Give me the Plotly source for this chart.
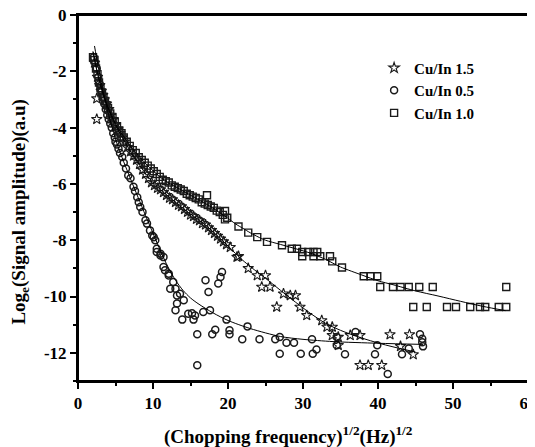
import plotly.graph_objects as go

# ---------------- data ----------------
sq_x = [2.0, 2.2, 2.4, 2.6, 2.8, 3.0, 3.2, 3.4, 3.6, 3.8, 4.0, 4.3, 4.6, 4.9, 5.2, 5.5, 5.8, 6.1,
        6.5, 6.9, 7.3, 7.7, 8.1, 8.5, 8.9, 9.3, 9.7, 10.1, 10.5, 10.9, 11.3, 11.7, 12.1, 12.5,
        12.9, 13.3, 13.7, 14.1, 14.5, 14.9, 15.3, 15.7, 16.1, 16.5, 16.9, 17.2, 17.3, 17.7, 18.1,
        18.5, 18.9, 19.3, 19.6, 19.6, 19.9, 21.4, 22.7, 23.9, 25.2, 27.2, 28.5, 29.2, 29.9, 29.9,
        30.7, 31.4, 31.9, 31.4, 32.3, 33.6, 33.9, 35.2, 38.1, 39.0, 39.9, 40.3, 42.0, 43.0, 44.1,
        45.5, 47.3, 57.1, 44.7, 46.5, 49.2, 50.4, 52.3, 53.6, 54.3, 56.1, 57.1]
sq_y = [-1.5, -1.6, -1.9, -2.1, -2.4, -2.6, -2.75, -2.9, -3.05, -3.2, -3.3, -3.5, -3.65, -3.8,
        -3.95, -4.1, -4.2, -4.35, -4.5, -4.65, -4.8, -4.9, -5.05, -5.15, -5.25, -5.35, -5.45,
        -5.55, -5.65, -5.75, -5.85, -5.9, -5.95, -6.05, -6.1, -6.15, -6.2, -6.25, -6.35, -6.4,
        -6.45, -6.5, -6.55, -6.65, -6.7, -6.4, -6.75, -6.8, -6.85, -6.95, -7.0, -7.1, -6.96,
        -7.26, -7.2, -7.51, -7.73, -7.89, -8.06, -8.18, -8.3, -8.3, -8.42, -8.57, -8.42, -8.42,
        -8.42, -8.57, -8.57, -8.57, -8.75, -8.97, -9.28, -9.28, -9.28, -9.66, -9.66, -9.66,
        -9.66, -9.66, -9.66, -9.66, -10.37, -10.37, -10.37, -10.37, -10.37, -10.37, -10.37,
        -10.37, -10.37]

st_x = [2.2, 2.5, 2.5, 2.6, 2.9, 3.1, 3.3, 3.5, 3.8, 4.1, 4.4, 4.7, 5.0, 5.3, 5.6, 5.9, 6.2, 6.6,
        7.0, 7.4, 7.8, 8.2, 8.6, 9.0, 9.4, 9.8, 10.2, 10.6, 11.0, 11.4, 11.8, 12.2, 12.6, 13.0,
        13.4, 13.8, 14.2, 14.6, 15.0, 15.4, 15.8, 16.2, 16.6, 17.0, 17.4, 17.8, 18.2, 18.6, 19.0,
        19.4, 19.8, 20.3, 21.2, 21.4, 22.7, 23.9, 25.0, 24.5, 25.6, 27.4, 28.3, 29.0, 26.5, 29.6,
        30.5, 32.5, 33.2, 33.9, 33.9, 34.7, 34.7, 36.3, 37.6, 41.6, 44.2, 43.0, 44.7, 37.6, 38.7,
        40.5]
st_y = [-1.7, -2.97, -3.7, -2.2, -2.5, -2.7, -2.85, -3.0, -3.15, -3.35, -3.55, -3.7, -3.9, -4.05,
        -4.2, -4.35, -4.5, -4.7, -4.85, -5.0, -5.15, -5.3, -5.5, -5.65, -5.8, -5.95, -6.05, -6.15,
        -6.2, -6.3, -6.4, -6.5, -6.55, -6.65, -6.75, -6.8, -6.9, -7.0, -7.1, -7.15, -7.25, -7.3,
        -7.4, -7.45, -7.55, -7.65, -7.75, -7.85, -7.95, -8.05, -8.15, -8.25, -8.6, -8.57, -9.0,
        -9.25, -9.25, -9.66, -9.66, -9.9, -9.96, -9.96, -10.37, -10.37, -10.67, -10.85, -11.08,
        -11.08, -11.38, -11.44, -11.73, -11.38, -11.38, -11.35, -11.35, -11.77, -12.06, -12.44,
        -12.44, -12.44]

ci_x = [2.1, 2.3, 2.5, 2.7, 2.9, 3.1, 3.3, 3.5, 3.7, 3.9, 4.1, 4.3, 4.5, 4.7, 4.9, 5.0, 5.2, 5.4,
        5.6, 5.9, 6.1, 6.4, 6.7, 7.0, 7.4, 7.6, 7.9, 8.1, 8.3, 8.6, 9.0, 9.2, 9.6, 9.9, 10.1, 10.3,
        10.5, 10.5, 11.0, 11.0, 11.4, 11.4, 11.6, 12.1, 12.1, 12.7, 12.3, 13.0, 13.6, 13.2, 14.1,
        13.2, 13.0, 13.9, 14.7, 15.2, 15.6, 15.4, 16.7, 17.6, 17.0, 17.4, 18.7, 19.0, 19.2, 19.8,
        15.9, 17.9, 18.3, 20.2, 20.2, 22.6, 21.9, 24.2, 26.3, 26.9, 27.8, 28.8, 31.2, 26.9, 29.7,
        31.3, 31.8, 15.9, 34.5, 34.5, 35.6, 37.0, 39.6, 39.9, 43.2, 44.1, 45.6, 45.9, 45.9, 46.0,
        41.3]
ci_y = [-1.5, -1.7, -1.9, -2.2, -2.45, -2.7, -2.95, -3.15, -3.35, -3.55, -3.7, -3.85, -4.0, -4.2,
        -4.35, -4.5, -4.6, -4.75, -4.9, -5.04, -5.25, -5.45, -5.7, -5.8, -6.1, -6.25, -6.47,
        -6.65, -6.82, -7.0, -7.29, -7.41, -7.65, -7.83, -7.89, -8.0, -8.3, -8.42, -8.48, -8.54,
        -8.6, -8.95, -9.07, -9.19, -9.25, -9.48, -9.72, -9.72, -9.9, -9.96, -10.13, -10.25,
        -10.49, -10.82, -10.61, -10.59, -10.67, -10.82, -10.55, -10.49, -9.42, -9.84, -9.54,
        -9.31, -9.13, -10.82, -11.34, -11.34, -11.18, -11.2, -11.34, -11.06, -11.52, -11.52,
        -11.52, -11.44, -11.64, -11.64, -11.52, -12.03, -12.03, -12.03, -11.88, -12.44, -11.44,
        -11.73, -12.05, -11.26, -12.05, -11.73, -12.05, -11.85, -11.34, -11.5, -11.62, -11.77,
        -12.75]

# fitted curves
fit_sq_x = [2.0, 2.5, 3, 3.5, 4, 4.5, 5, 5.5, 6, 7, 8, 9, 10, 11, 12, 13, 14, 15, 16, 17, 18, 19,
            20, 21, 22, 23, 24, 25, 27, 29, 31, 33, 35, 38, 40, 42, 45, 48, 51, 54, 57]
fit_sq_y = [-1.3, -1.95, -2.5, -2.92, -3.28, -3.58, -3.85, -4.08, -4.28, -4.66, -4.98, -5.27,
            -5.53, -5.76, -5.95, -6.1, -6.25, -6.4, -6.55, -6.7, -6.86, -7.04, -7.22, -7.42,
            -7.58, -7.74, -7.88, -8.0, -8.15, -8.3, -8.46, -8.68, -8.95, -9.25, -9.44, -9.58,
            -9.8, -9.98, -10.17, -10.35, -10.5]

fit_st_x = [2.0, 2.5, 3, 3.5, 4, 5, 6, 7, 8, 9, 10, 11, 12, 13, 14, 15, 16, 17, 18, 19, 20, 21,
            22, 23, 24, 25, 27, 29, 31, 33, 35, 37, 39, 41, 43, 45]
fit_st_y = [-1.3, -1.95, -2.48, -2.92, -3.3, -3.9, -4.4, -4.85, -5.25, -5.63, -5.95, -6.2,
            -6.43, -6.65, -6.87, -7.07, -7.26, -7.46, -7.7, -7.95, -8.2, -8.47, -8.72, -8.94,
            -9.15, -9.35, -9.78, -10.2, -10.6, -10.95, -11.2, -11.4, -11.57, -11.72, -11.85,
            -11.97]

fit_ci_x = [2.2, 2.6, 3, 3.5, 4, 4.5, 5, 5.5, 6, 7, 8, 9, 10, 11, 12, 13, 14, 15, 16, 18, 20, 23,
            27, 30, 34, 40, 46]
fit_ci_y = [-1.1, -1.7, -2.25, -2.9, -3.45, -3.95, -4.4, -4.8, -5.15, -5.82, -6.47, -7.12,
            -7.75, -8.38, -8.95, -9.42, -9.78, -10.05, -10.25, -10.58, -10.85, -11.14, -11.42,
            -11.52, -11.6, -11.66, -11.7]

x_ticks = [0, 10, 20, 30, 40, 50, 60]
x_ticktext = ["0", "10", "20", "30", "40", "50", "60"]
y_ticks = [0, -2, -4, -6, -8, -10, -12]
y_ticktext = ["0", "-2", "-4", "-6", "-8", "-10", "-12"]

# ---------------- figure ----------------
SERIF = "Liberation Serif, Times New Roman, serif"
MC = "#1a1a1a"

fig = go.Figure()
fig.add_trace(go.Scatter(x=st_x, y=st_y, mode="markers", name="Cu/In 1.5", cliponaxis=False,
                         marker=dict(symbol="star-open", size=8, color=MC, line=dict(width=1.1, color=MC))))
fig.add_trace(go.Scatter(x=ci_x, y=ci_y, mode="markers", name="Cu/In 0.5", cliponaxis=False,
                         marker=dict(symbol="circle-open", size=7, color=MC, line=dict(width=1.5, color=MC))))
fig.add_trace(go.Scatter(x=sq_x, y=sq_y, mode="markers", name="Cu/In 1.0", cliponaxis=False,
                         marker=dict(symbol="square-open", size=7, color=MC, line=dict(width=1.4, color=MC))))
for fx, fy in [(fit_sq_x, fit_sq_y), (fit_st_x, fit_st_y), (fit_ci_x, fit_ci_y)]:
    fig.add_trace(go.Scatter(x=fx, y=fy, mode="lines", showlegend=False, hoverinfo="skip",
                             line=dict(color="black", width=1, shape="spline", smoothing=0.8)))

axis_common = dict(
    showline=True, linecolor="black", linewidth=2, mirror=True, automargin=False,
    ticks="outside", ticklen=6, tickwidth=2, tickcolor="black",
    showgrid=False, zeroline=False, ticklabeloverflow="allow",
    tickfont=dict(family=SERIF, size=17, color="black", weight="bold"),
)
fig.update_xaxes(range=[0, 60], tickvals=x_ticks, ticktext=x_ticktext,
                 minor=dict(ticks="outside", ticklen=3, tickwidth=2, tickcolor="black", dtick=5, showgrid=False),
                 **axis_common)
fig.update_yaxes(range=[-13, 0], tickvals=y_ticks, ticktext=y_ticktext,
                 minor=dict(ticks="outside", ticklen=3, tickwidth=2, tickcolor="black", dtick=1, showgrid=False),
                 **axis_common)

# full frame around the plotting area
fig.add_shape(type="rect", xref="paper", yref="paper", x0=0, y0=0, x1=1, y1=1,
              line=dict(color="black", width=2), layer="above")

fig.add_annotation(xref="paper", yref="paper", x=0.467, y=-0.148, xanchor="center", yanchor="middle",
                   showarrow=False,
                   text="(Chopping frequency)<sup>1/2</sup>(Hz)<sup>1/2</sup>",
                   font=dict(family=SERIF, size=19, color="black", weight="bold"))
fig.add_annotation(xref="paper", yref="paper", x=-0.128, y=0.464, xanchor="center", yanchor="middle",
                   showarrow=False, textangle=-90,
                   text="Log<sub>e</sub>(Signal amplitude)(a.u)",
                   font=dict(family=SERIF, size=19, color="black", weight="bold"))

# page body has an 8px default margin: shrink the figure so the plot lands where the reference has it
fig.update_layout(
    width=527, height=439,
    margin=dict(l=70, r=7, t=7, b=66, autoexpand=False),
    paper_bgcolor="white", plot_bgcolor="white",
    showlegend=True,
    legend=dict(x=0.658, y=0.9, xanchor="left", yanchor="top", bgcolor="rgba(0,0,0,0)",
                font=dict(family=SERIF, size=15, color="black", weight="bold"),
                tracegroupgap=0, itemwidth=30),
)

fig.write_html("out.html")
